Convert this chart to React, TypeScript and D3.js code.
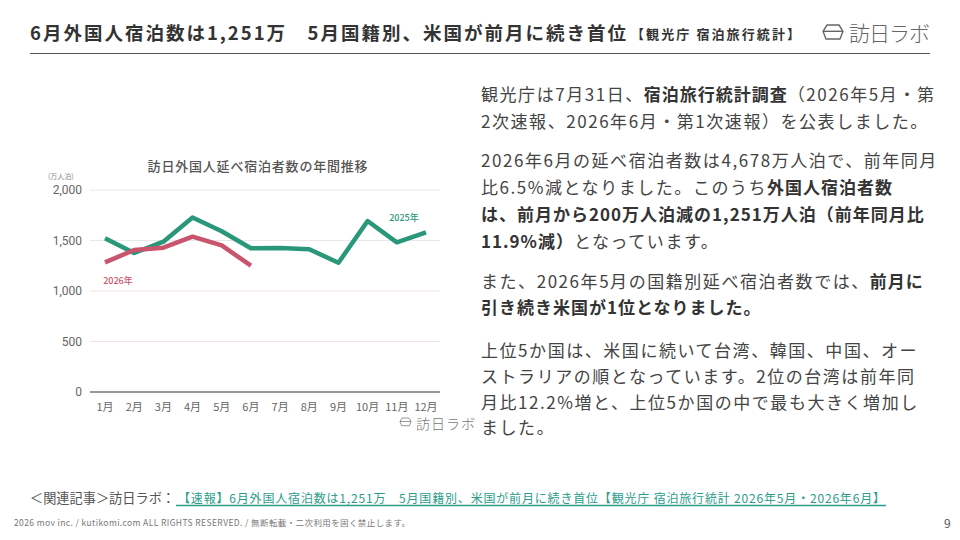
import React from 'react';
import * as d3 from 'd3';

const months = ['1月', '2月', '3月', '4月', '5月', '6月', '7月', '8月', '9月', '10月', '11月', '12月'];
const v2025 = [1522, 1376, 1488, 1728, 1592, 1423, 1425, 1413, 1280, 1693, 1482, 1581];
const v2026 = [1284, 1406, 1429, 1538, 1451, 1251];
const yTicks = [0, 500, 1000, 1500, 2000];

const titleMain = '6月外国人宿泊数は1,251万　5月国籍別、米国が前月に続き首位';
const titleSub = '【観光庁 宿泊旅行統計】';
const chartTitle = '訪日外国人延べ宿泊者数の年間推移';
const unitLabel = '(万人泊)';
const label2025 = '2025年';
const label2026 = '2026年';
const brand = '訪日ラボ';

type Seg = [string, boolean];
const paragraphs: { y: number; segs: Seg[] }[][] = [
  [
    { y: 93, segs: [['観光庁は7月31日、', false], ['宿泊旅行統計調査', true], ['（2026年5月・第', false]] },
    { y: 120, segs: [['2次速報、2026年6月・第1次速報）を公表しました。', false]] },
  ],
  [
    { y: 159, segs: [['2026年6月の延べ宿泊者数は4,678万人泊で、前年同月', false]] },
    { y: 186, segs: [['比6.5%減となりました。このうち', false], ['外国人宿泊者数', true]] },
    { y: 213, segs: [['は、前月から200万人泊減の1,251万人泊（前年同月比', true]] },
    { y: 240, segs: [['11.9%減）', true], ['となっています。', false]] },
  ],
  [
    { y: 280, segs: [['また、2026年5月の国籍別延べ宿泊者数では、', false], ['前月に', true]] },
    { y: 306, segs: [['引き続き米国が1位となりました。', true]] },
  ],
  [
    { y: 349, segs: [['上位5か国は、米国に続いて台湾、韓国、中国、オー', false]] },
    { y: 375, segs: [['ストラリアの順となっています。2位の台湾は前年同', false]] },
    { y: 401, segs: [['月比12.2%増と、上位5か国の中で最も大きく増加し', false]] },
    { y: 426, segs: [['ました。', false]] },
  ],
];

const relatedPrefix = '＜関連記事＞訪日ラボ：';
const relatedLink = '【速報】6月外国人宿泊数は1,251万　5月国籍別、米国が前月に続き首位【観光庁 宿泊旅行統計 2026年5月・2026年6月】';
const copyright = '2026 mov inc. / kutikomi.com ALL RIGHTS RESERVED. / 無断転載・二次利用を固く禁止します。';
const pageNo = '9';

const FONT = '"Noto Sans CJK JP", "Noto Sans", sans-serif';
const GREEN = '#2a977b';
const PINK = '#c9546d';

function Logo({ x, y, s, color }: { x: number; y: number; s: number; color: string }) {
  const w = 20 * s, h = 14 * s;
  const p = `M${x + 4 * s},${y} L${x + w - 4 * s},${y} L${x + w},${y + h * 0.45} L${x + w - 3 * s},${y + h} L${x + 3 * s},${y + h} L${x},${y + h * 0.45} Z`;
  return (
    <g fill="none" stroke={color} strokeWidth={1.4 * s}>
      <path d={p} strokeLinejoin="round" />
      <line x1={x} y1={y + h * 0.45} x2={x + w} y2={y + h * 0.45} />
    </g>
  );
}

export default function App() {
  const x = d3.scalePoint<string>().domain(months).range([105, 426]);
  const y = d3.scaleLinear().domain([0, 2000]).range([392, 190]);
  const line = d3
    .line<number>()
    .x((_, i) => x(months[i]) as number)
    .y((d) => y(d))
    .curve(d3.curveLinear);

  return (
    <svg width={960} height={540} style={{ position: 'absolute', left: 0, top: 0, background: '#fff' }} fontFamily={FONT}>
      <rect width={960} height={540} fill="#fff" />
      {/* Header */}
      <text x={30} y={32} dominantBaseline="central" fontSize={18.5} fontWeight={700} fill="#333" textLength={596} lengthAdjust="spacing">
        {titleMain}
      </text>
      <text x={631} y={33} dominantBaseline="central" fontSize={13} fontWeight={700} fill="#333" textLength={169} lengthAdjust="spacing">
        {titleSub}
      </text>
      <Logo x={823} y={25} s={1} color="#666" />
      <text x={849} y={32} dominantBaseline="central" fontSize={21} fontWeight={300} fill="#666" textLength={81} lengthAdjust="spacing">
        {brand}
      </text>
      <line x1={30} x2={930} y1={53.5} y2={53.5} stroke="#555" strokeWidth={1.2} />

      {/* Chart */}
      <text x={258} y={165} textAnchor="middle" dominantBaseline="central" fontSize={13} fontWeight={500} fill="#555" letterSpacing={0.8}>
        {chartTitle}
      </text>
      <text x={48} y={176} dominantBaseline="central" fontSize={7} fill="#888">
        {unitLabel}
      </text>
      {yTicks.map((t) => (
        <g key={t}>
          {t !== 0 && (
            <line x1={90} x2={440} y1={y(t)} y2={y(t)} stroke={t >= 1500 ? '#e8e8e8' : '#f3e1e5'} strokeWidth={1} />
          )}
          <text x={82} y={y(t)} textAnchor="end" dominantBaseline="central" fontSize={12} fill="#666" fontFamily="Roboto, sans-serif">
            {d3.format(',')(t)}
          </text>
        </g>
      ))}
      <line x1={90} x2={440} y1={y(0)} y2={y(0)} stroke="#777" strokeWidth={1.5} />
      {months.map((m) => (
        <text key={m} x={x(m)} y={406} textAnchor="middle" dominantBaseline="central" fontSize={11} fill="#666">
          {m}
        </text>
      ))}
      <path d={line(v2025) || ''} fill="none" stroke={GREEN} strokeWidth={4.5} strokeLinejoin="round" />
      <path d={line(v2026) || ''} fill="none" stroke={PINK} strokeWidth={4.5} strokeLinejoin="round" />
      <text x={404} y={217} textAnchor="middle" dominantBaseline="central" fontSize={9} fontWeight={500} fill={GREEN}>
        {label2025}
      </text>
      <text x={118} y={280} textAnchor="middle" dominantBaseline="central" fontSize={9} fontWeight={500} fill={PINK}>
        {label2026}
      </text>
      <Logo x={400} y={418} s={0.55} color="#777" />
      <text x={416} y={423} dominantBaseline="central" fontSize={14} fontWeight={300} fill="#777" letterSpacing={1}>
        {brand}
      </text>

      {/* Right text */}
      {paragraphs.flat().map((ln, i) => (
        <text key={i} x={481} y={ln.y} dominantBaseline="central" fontSize={17} fill="#444">
          {ln.segs.map(([s, b], j) => (
            <tspan key={j} fontWeight={b ? 700 : 400} fill={b ? '#333' : '#444'} letterSpacing={b ? 1.0 : 1.55}>
              {s}
            </tspan>
          ))}
        </text>
      ))}

      {/* Footer */}
      <text x={30} y={497} dominantBaseline="central" fontSize={13.2} fill="#555">
        {relatedPrefix}
      </text>
      <text x={178} y={497} dominantBaseline="central" fontSize={12} fill="#2a9d8a" textLength={707} lengthAdjust="spacing">
        {relatedLink}
      </text>
      <line x1={176} x2={886} y1={505.5} y2={505.5} stroke="#2a9d8a" strokeWidth={1.5} />
      <text x={14} y={522} dominantBaseline="central" fontSize={8.5} fill="#777" textLength={396} lengthAdjust="spacing">
        {copyright}
      </text>
      <text x={944} y={522} dominantBaseline="central" fontSize={12} fill="#555">
        {pageNo}
      </text>
    </svg>
  );
}
